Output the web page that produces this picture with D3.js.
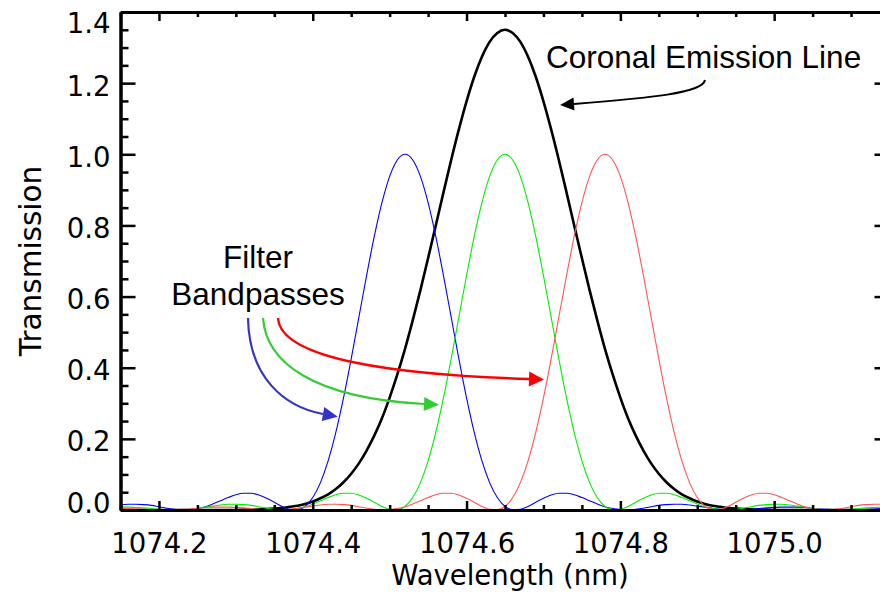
<!DOCTYPE html>
<meta charset="utf-8">
<style>
body { margin: 0; background: #fff; }
svg { display: block; }
.curve { fill: none; }
.axis path, .axis line { stroke: #000; }
</style>
<body>
<script src="https://cdn.jsdelivr.net/npm/d3@7"></script>
<script>

// sampled wavelength grid (nm)
var wavelength = [
  1074.15, 1074.16, 1074.17, 1074.18, 1074.19, 1074.20, 1074.21, 1074.22, 1074.23, 1074.24,
  1074.25, 1074.26, 1074.27, 1074.28, 1074.29, 1074.30, 1074.31, 1074.32, 1074.33, 1074.34,
  1074.35, 1074.36, 1074.37, 1074.38, 1074.39, 1074.40, 1074.41, 1074.42, 1074.43, 1074.44,
  1074.45, 1074.46, 1074.47, 1074.48, 1074.49, 1074.50, 1074.51, 1074.52, 1074.53, 1074.54,
  1074.55, 1074.56, 1074.57, 1074.58, 1074.59, 1074.60, 1074.61, 1074.62, 1074.63, 1074.64,
  1074.65, 1074.66, 1074.67, 1074.68, 1074.69, 1074.70, 1074.71, 1074.72, 1074.73, 1074.74,
  1074.75, 1074.76, 1074.77, 1074.78, 1074.79, 1074.80, 1074.81, 1074.82, 1074.83, 1074.84,
  1074.85, 1074.86, 1074.87, 1074.88, 1074.89, 1074.90, 1074.91, 1074.92, 1074.93, 1074.94,
  1074.95, 1074.96, 1074.97, 1074.98, 1074.99, 1075.00, 1075.01, 1075.02, 1075.03, 1075.04,
  1075.05, 1075.06, 1075.07, 1075.08, 1075.09, 1075.10, 1075.11, 1075.12, 1075.13, 1075.14,
  1075.15
];

// filter bandpass centred near 1074.52
var blueFilter = [
  0.014, 0.016, 0.016, 0.015, 0.013, 0.009, 0.005, 0.002, 0.000, 0.001,
  0.004, 0.009, 0.017, 0.026, 0.035, 0.043, 0.047, 0.047, 0.042, 0.033,
  0.022, 0.010, 0.002, 0.001, 0.010, 0.035, 0.077, 0.138, 0.218, 0.315,
  0.425, 0.542, 0.659, 0.769, 0.864, 0.938, 0.984, 1.000, 0.984, 0.938,
  0.864, 0.769, 0.659, 0.542, 0.425, 0.315, 0.218, 0.138, 0.077, 0.035,
  0.010, 0.001, 0.002, 0.010, 0.022, 0.033, 0.042, 0.047, 0.047, 0.043,
  0.035, 0.026, 0.017, 0.009, 0.004, 0.001, 0.000, 0.002, 0.005, 0.009,
  0.013, 0.015, 0.016, 0.016, 0.014, 0.011, 0.008, 0.005, 0.002, 0.001,
  0.000, 0.000, 0.002, 0.004, 0.006, 0.007, 0.008, 0.008, 0.008, 0.007,
  0.005, 0.003, 0.002, 0.001, 0.000, 0.000, 0.001, 0.002, 0.003, 0.004,
  0.005
];

// filter bandpass centred near 1074.65
var greenFilter = [
  0.008, 0.008, 0.007, 0.006, 0.004, 0.002, 0.000, 0.000, 0.001, 0.002,
  0.005, 0.008, 0.011, 0.014, 0.016, 0.016, 0.015, 0.013, 0.009, 0.005,
  0.002, 0.000, 0.001, 0.004, 0.009, 0.017, 0.026, 0.035, 0.043, 0.047,
  0.047, 0.042, 0.033, 0.022, 0.010, 0.002, 0.001, 0.010, 0.035, 0.077,
  0.138, 0.218, 0.315, 0.425, 0.542, 0.659, 0.769, 0.864, 0.938, 0.984,
  1.000, 0.984, 0.938, 0.864, 0.769, 0.659, 0.542, 0.425, 0.315, 0.218,
  0.138, 0.077, 0.035, 0.010, 0.001, 0.002, 0.010, 0.022, 0.033, 0.042,
  0.047, 0.047, 0.043, 0.035, 0.026, 0.017, 0.009, 0.004, 0.001, 0.000,
  0.002, 0.005, 0.009, 0.013, 0.015, 0.016, 0.016, 0.014, 0.011, 0.008,
  0.005, 0.002, 0.001, 0.000, 0.000, 0.002, 0.004, 0.006, 0.007, 0.008,
  0.008
];

// filter bandpass centred near 1074.78
var redFilter = [
  0.005, 0.004, 0.003, 0.002, 0.001, 0.000, 0.000, 0.001, 0.002, 0.003,
  0.005, 0.007, 0.008, 0.008, 0.008, 0.007, 0.006, 0.004, 0.002, 0.000,
  0.000, 0.001, 0.002, 0.005, 0.008, 0.011, 0.014, 0.016, 0.016, 0.015,
  0.013, 0.009, 0.005, 0.002, 0.000, 0.001, 0.004, 0.009, 0.017, 0.026,
  0.035, 0.043, 0.047, 0.047, 0.042, 0.033, 0.022, 0.010, 0.002, 0.001,
  0.010, 0.035, 0.077, 0.138, 0.218, 0.315, 0.425, 0.542, 0.659, 0.769,
  0.864, 0.938, 0.984, 1.000, 0.984, 0.938, 0.864, 0.769, 0.659, 0.542,
  0.425, 0.315, 0.218, 0.138, 0.077, 0.035, 0.010, 0.001, 0.002, 0.010,
  0.022, 0.033, 0.042, 0.047, 0.047, 0.043, 0.035, 0.026, 0.017, 0.009,
  0.004, 0.001, 0.000, 0.002, 0.005, 0.009, 0.013, 0.015, 0.016, 0.016,
  0.014
];

// coronal emission line profile
var coronalLine = [
  0.000, 0.000, 0.000, 0.000, 0.000, 0.000, 0.000, 0.000, 0.000, 0.000,
  0.000, 0.000, 0.000, 0.000, 0.000, 0.000, 0.001, 0.001, 0.002, 0.003,
  0.004, 0.006, 0.009, 0.012, 0.017, 0.024, 0.033, 0.044, 0.059, 0.078,
  0.102, 0.131, 0.167, 0.209, 0.258, 0.316, 0.381, 0.453, 0.533, 0.618,
  0.708, 0.800, 0.893, 0.984, 1.070, 1.149, 1.218, 1.274, 1.316, 1.341,
  1.350, 1.341, 1.316, 1.274, 1.218, 1.149, 1.070, 0.984, 0.893, 0.800,
  0.708, 0.618, 0.533, 0.453, 0.381, 0.316, 0.258, 0.209, 0.167, 0.131,
  0.102, 0.078, 0.059, 0.044, 0.033, 0.024, 0.017, 0.012, 0.009, 0.006,
  0.004, 0.003, 0.002, 0.001, 0.001, 0.000, 0.000, 0.000, 0.000, 0.000,
  0.000, 0.000, 0.000, 0.000, 0.000, 0.000, 0.000, 0.000, 0.000, 0.000,
  0.000
];

var xTicks = [1074.2, 1074.4, 1074.6, 1074.8, 1075.0];
var xMinorTicks = [1074.15, 1074.25, 1074.3, 1074.35, 1074.45, 1074.5, 1074.55,
                   1074.65, 1074.7, 1074.75, 1074.85, 1074.9, 1074.95, 1075.05, 1075.1];
var yTicks = [0.0, 0.2, 0.4, 0.6, 0.8, 1.0, 1.2, 1.4];
var yMinorTicks = [0.05, 0.1, 0.15, 0.25, 0.3, 0.35, 0.45, 0.5, 0.55, 0.65, 0.7, 0.75,
                   0.85, 0.9, 0.95, 1.05, 1.1, 1.15, 1.25, 1.3, 1.35];

var W = 880, H = 595;
var plotL = 120.5, plotR = 889.5, plotT = 12, plotB = 510;
var axisFont = "'DejaVu Sans', sans-serif";
var noteFont = "'Liberation Sans', Arial, sans-serif";

var svg = d3.select("body").append("svg")
    .attr("width", W)
    .attr("height", H);

var x = d3.scaleLinear().domain([1074.15, 1075.15]).range([plotL, plotR]);
var y = d3.scaleLinear().domain([0, 1.4]).range([plotB, plotT]);

// curves
var series = [
  {values: coronalLine, color: "#000000", width: 2.6},
  {values: blueFilter, color: "#0000ff", width: 1.1},
  {values: greenFilter, color: "#00ee00", width: 1.1},
  {values: redFilter, color: "#ff5555", width: 1.1}
];

var line = d3.line()
    .x(function(d) { return x(d[0]); })
    .y(function(d) { return y(d[1]); })
    .curve(d3.curveMonotoneX);

series.forEach(function(s) {
  svg.append("path")
      .datum(d3.zip(wavelength, s.values))
      .attr("class", "curve")
      .attr("stroke", s.color)
      .attr("stroke-width", s.width)
      .attr("d", line);
});

// axes (ticks point inward like the original)
function styleAxis(g, w) {
  g.attr("class", "axis");
  g.select(".domain").attr("stroke-width", 3);
  g.selectAll(".tick line").attr("stroke-width", w);
}

var fmt = d3.format(".1f");

svg.append("g")
    .attr("transform", "translate(0," + plotB + ")")
    .call(d3.axisBottom(x).tickValues(xMinorTicks).tickSize(-5).tickSizeOuter(0).tickFormat(""))
    .call(styleAxis, 2.5);

svg.append("g")
    .attr("transform", "translate(0," + plotB + ")")
    .call(d3.axisBottom(x).tickValues(xTicks).tickSize(-9).tickSizeOuter(0).tickFormat(fmt))
    .call(styleAxis, 2.5)
    .call(function(g) {
      g.selectAll(".tick text")
          .attr("y", 43).attr("dy", null)
          .attr("font-family", axisFont).attr("font-size", 27.5).attr("fill", "#000");
    });

svg.append("g")
    .attr("transform", "translate(0," + plotT + ")")
    .call(d3.axisTop(x).tickValues(xMinorTicks).tickSize(-5).tickSizeOuter(0).tickFormat(""))
    .call(styleAxis, 2.5);

svg.append("g")
    .attr("transform", "translate(0," + plotT + ")")
    .call(d3.axisTop(x).tickValues(xTicks).tickSize(-9).tickSizeOuter(0).tickFormat(""))
    .call(styleAxis, 2.5);

svg.append("g")
    .attr("transform", "translate(" + plotL + ",0)")
    .call(d3.axisLeft(y).tickValues(yMinorTicks).tickSize(-8).tickSizeOuter(0).tickFormat(""))
    .call(styleAxis, 2.5);

svg.append("g")
    .attr("transform", "translate(" + plotL + ",0)")
    .call(d3.axisLeft(y).tickValues(yTicks).tickSize(-15).tickSizeOuter(0).tickFormat(fmt).tickPadding(10))
    .call(styleAxis, 2.5)
    .call(function(g) {
      g.selectAll(".tick text")
          .attr("dy", null)
          .attr("y", function(d) {
            // end labels sit inside the frame
            var yy = Math.min(Math.max(y(d) + 12, plotT + 20), plotB + 2);
            return yy - y(d);
          })
          .attr("font-family", axisFont).attr("font-size", 27.5).attr("fill", "#000");
    });

svg.append("g")
    .attr("transform", "translate(" + plotR + ",0)")
    .call(d3.axisRight(y).tickValues(yMinorTicks).tickSize(-8).tickSizeOuter(0).tickFormat(""))
    .call(styleAxis, 2.5);

svg.append("g")
    .attr("transform", "translate(" + plotR + ",0)")
    .call(d3.axisRight(y).tickValues(yTicks).tickSize(-15).tickSizeOuter(0).tickFormat(""))
    .call(styleAxis, 2.5);

// axis titles
svg.append("text")
    .attr("x", 510)
    .attr("y", 585)
    .attr("text-anchor", "middle")
    .style("font-family", axisFont)
    .style("font-size", "27.5px")
    .text("Wavelength (nm)");

svg.append("text")
    .attr("transform", "translate(41," + ((plotT + plotB) / 2) + ") rotate(-90)")
    .attr("text-anchor", "middle")
    .style("font-family", axisFont)
    .style("font-size", "29.5px")
    .text("Transmission");

// annotations
svg.append("text")
    .attr("x", 546).attr("y", 68)
    .style("font-family", noteFont).style("font-size", "31.5px")
    .text("Coronal Emission Line");

svg.append("text")
    .attr("x", 258).attr("y", 268)
    .attr("text-anchor", "middle")
    .style("font-family", noteFont).style("font-size", "31.5px")
    .text("Filter");

svg.append("text")
    .attr("x", 258).attr("y", 305)
    .attr("text-anchor", "middle")
    .style("font-family", noteFont).style("font-size", "31.5px")
    .text("Bandpasses");

// curved arrows: start, control1, control2, head base
var arrows = [
  {pts: [[705, 80], [703, 93], [650, 98], [574, 104]], color: "#000000", width: 2, head: 14, headW: 13},
  {pts: [[248, 318], [249, 378], [285, 407], [323, 414]], color: "#3333cc", width: 2.2, head: 15, headW: 14},
  {pts: [[263, 318], [266, 362], [312, 398], [424, 404]], color: "#33cc33", width: 2.2, head: 15, headW: 14},
  {pts: [[278, 318], [280, 360], [400, 375], [529, 379]], color: "#ff0000", width: 2.5, head: 15, headW: 15}
];

arrows.forEach(function(a) {
  var p = a.pts;
  var path = d3.path();
  path.moveTo(p[0][0], p[0][1]);
  path.bezierCurveTo(p[1][0], p[1][1], p[2][0], p[2][1], p[3][0], p[3][1]);
  svg.append("path")
      .attr("d", path.toString())
      .attr("fill", "none")
      .attr("stroke", a.color)
      .attr("stroke-width", a.width);

  var dx = p[3][0] - p[2][0], dy = p[3][1] - p[2][1];
  var len = Math.sqrt(dx * dx + dy * dy);
  var ux = dx / len, uy = dy / len;
  var tip = [p[3][0] + ux * a.head, p[3][1] + uy * a.head];
  var hw = a.headW / 2;
  var head = [tip,
              [p[3][0] - uy * hw, p[3][1] + ux * hw],
              [p[3][0] + uy * hw, p[3][1] - ux * hw]];
  svg.append("path")
      .attr("d", "M" + head.join("L") + "Z")
      .attr("fill", a.color);
});

</script>
</body>
